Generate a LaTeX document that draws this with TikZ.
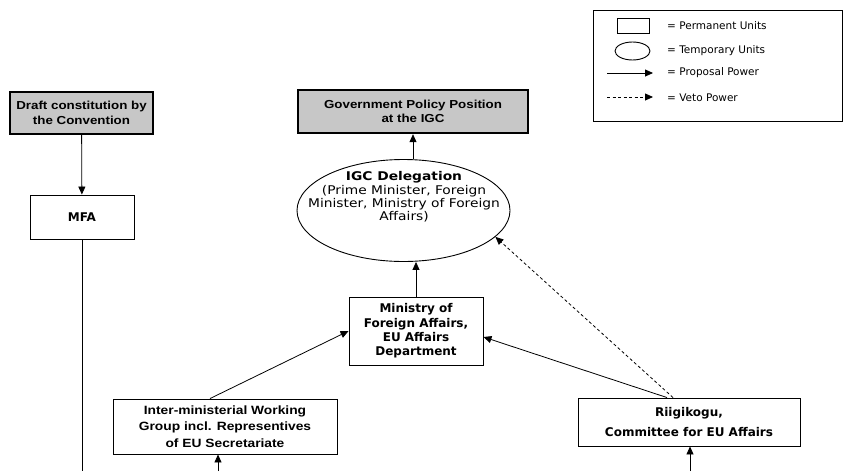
\documentclass[tikz,border=0pt]{standalone}
\usepackage{fontspec}
\usetikzlibrary{arrows.meta,shapes.geometric}
\newfontfamily\arialfont[FakeStretch=1.15]{Liberation Sans}
\newfontfamily\verdfont{DejaVu Sans}
\newfontfamily\verdwide[FakeStretch=1.15]{DejaVu Sans}
\tikzset{
	unit/.style={draw, line width=0.9pt, inner sep=0pt, align=center},
	outcome/.style={draw, line width=2.4pt, fill=black!22, inner sep=0pt, align=center,
		font=\arialfont\bfseries\fontsize{11.6}{14.3}\selectfont},
	tempunit/.style={ellipse, draw, line width=0.9pt, inner sep=0pt, align=center},
	keytext/.style={anchor=west, inner sep=0pt, font=\verdfont\fontsize{10.5}{12}\selectfont},
	proposal/.style={line width=0.8pt, -{Triangle[length=8pt,width=7pt]}},
	veto/.style={proposal, dash pattern=on 3pt off 2.5pt},
}

\begin{document}
\begin{tikzpicture}[x=1pt, y=-1pt]
				\useasboundingbox (0,0) rectangle (845,471);
				
				% legend
				\node[draw, line width=0.8pt, minimum width=249pt, minimum height=111pt, inner sep=0pt] (legend) at (717.5,65.5) {};
				\node[unit, minimum width=32pt, minimum height=15pt] (keyperm) at (633,25.5) {};
				\node[tempunit, minimum width=35pt, minimum height=18pt] (keytemp) at (632.5,51) {};
				\coordinate (keypropa) at (607,73);
				\coordinate (keypropb) at (653,73);
				\coordinate (keyvetoa) at (607,97);
				\coordinate (keyvetob) at (653,97);
				\draw[proposal] (keypropa) -- (keypropb);
				\draw[veto] (keyvetoa) -- (keyvetob);
				\node[keytext] (txtperm) at (667,25.5) {= Permanent Units};
				\node[keytext] (txttemp) at (667,50.5) {= Temporary Units};
				\node[keytext] (txtprop) at (667,73) {= Proposal Power};
				\node[keytext] (txtveto) at (667,97.5) {= Veto Power};
				
				% left column
				\node[outcome, minimum width=143pt, minimum height=42pt] (draft) at (81.5,113) {Draft constitution by\\the Convention};
				\node[unit, minimum width=104pt, minimum height=44pt, font=\verdfont\bfseries\fontsize{12}{14}\selectfont] (mfa) at (82,217) {MFA};
				\coordinate (mfaend) at (82,471);
				\draw[proposal] (draft) -- (mfa);
				\draw[line width=0.8pt] (mfa) -- (mfaend);
				
				% centre
				\node[outcome, minimum width=230pt, minimum height=43pt] (gov) at (413,111.5) {Government Policy Position\\at the IGC};
				\node[tempunit, minimum width=213pt, minimum height=102pt] (deleg) at (403.5,210.5) {};
				\node[inner sep=0pt, align=center, font=\verdwide\fontsize{12}{13.4}\selectfont] (delegtxt) at (404,197) {{\bfseries IGC Delegation}\\(Prime Minister, Foreign\\Minister, Ministry of Foreign\\Affairs)};
				\node[unit, minimum width=134pt, minimum height=68pt, font=\verdfont\bfseries\fontsize{12}{14.3}\selectfont] (mofa) at (416,331) {Ministry of\\Foreign Affairs,\\EU Affairs\\Department};
				\draw[proposal] (gov.south |- deleg.north) -- (gov.south);
				\draw[proposal] (mofa.north) -- (mofa.north |- deleg.south);
				
				% bottom row
				\node[unit, minimum width=224pt, minimum height=55pt, font=\arialfont\bfseries\fontsize{12}{16.5}\selectfont] (inter) at (225,426.5) {Inter-ministerial Working\\Group incl. Representives\\of EU Secretariate};
				\node[unit, minimum width=222pt, minimum height=48pt, font=\verdfont\bfseries\fontsize{12}{20}\selectfont] (riigi) at (689,422) {Riigikogu,\\Committee for EU Affairs};
				\coordinate (interin) at (218,471);
				\coordinate (riigiin) at (690,471);
				\draw[proposal] (interin) -- (interin |- inter.south);
				\draw[proposal] (riigiin) -- (riigiin |- riigi.south);
				\draw[proposal] ([xshift=-15pt]inter.north) -- (mofa.west);
				\draw[proposal] ([xshift=-22pt]riigi.north) -- ([yshift=-6pt]mofa.east);
				\draw[veto] ([xshift=-16pt]riigi.north) -- (deleg.-16);
\end{tikzpicture}
\end{document}
